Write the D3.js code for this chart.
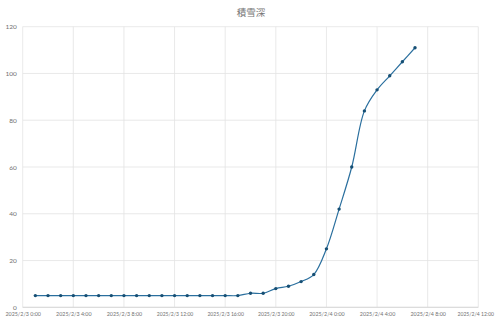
<!DOCTYPE html>
<html><head><meta charset="utf-8">
<script src="https://cdn.jsdelivr.net/npm/d3@7"></script>
<style>body{margin:0;background:#fff;}svg{display:block;}</style>
</head><body>
<svg id="c" width="500" height="319"></svg>
<script>
const title = "積雪深";
const times = [
 "2025-02-03T01:00","2025-02-03T02:00","2025-02-03T03:00","2025-02-03T04:00","2025-02-03T05:00",
 "2025-02-03T06:00","2025-02-03T07:00","2025-02-03T08:00","2025-02-03T09:00","2025-02-03T10:00",
 "2025-02-03T11:00","2025-02-03T12:00","2025-02-03T13:00","2025-02-03T14:00","2025-02-03T15:00",
 "2025-02-03T16:00","2025-02-03T17:00","2025-02-03T18:00","2025-02-03T19:00","2025-02-03T20:00",
 "2025-02-03T21:00","2025-02-03T22:00","2025-02-03T23:00","2025-02-04T00:00","2025-02-04T01:00",
 "2025-02-04T02:00","2025-02-04T03:00","2025-02-04T04:00","2025-02-04T05:00","2025-02-04T06:00",
 "2025-02-04T07:00"];
const snowDepth = [5,5,5,5,5,5,5,5,5,5,5,5,5,5,5,5,5,6,6,8,9,11,14,25,42,60,84,93,99,105,111];
const xTicks = ["2025-02-03T00:00","2025-02-03T04:00","2025-02-03T08:00","2025-02-03T12:00","2025-02-03T16:00",
 "2025-02-03T20:00","2025-02-04T00:00","2025-02-04T04:00","2025-02-04T08:00","2025-02-04T12:00"];
const yTicks = [0,20,40,60,80,100,120];

const parse = d3.timeParse("%Y-%m-%dT%H:%M");
const data = times.map((t,i)=>({t:parse(t), v:snowDepth[i]}));
const xt = xTicks.map(parse);
const fmt = d => `${d.getFullYear()}/${d.getMonth()+1}/${d.getDate()} ${d.getHours()}:${String(d.getMinutes()).padStart(2,"0")}`;

const svg = d3.select("#c");
const L=22.7, R=478.3, T=26.7, B=307.3;
const x = d3.scaleTime().domain([xt[0], xt[xt.length-1]]).range([L,R]);
const y = d3.scaleLinear().domain([0,120]).range([B,T]);

svg.append("text").attr("x",251).attr("y",16).attr("text-anchor","middle")
  .attr("font-family","'Noto Sans CJK JP'").attr("font-size",9.5).attr("fill","#767676").text(title);

// grid
const g = svg.append("g");
g.selectAll("line.h").data(yTicks).join("line")
  .attr("x1",L).attr("x2",R).attr("y1",d=>y(d)).attr("y2",d=>y(d))
  .attr("stroke","#e3e3e3").attr("stroke-width",0.8);
g.selectAll("line.v").data(xt).join("line")
  .attr("x1",d=>x(d)).attr("x2",d=>x(d)).attr("y1",T).attr("y2",B)
  .attr("stroke","#e3e3e3").attr("stroke-width",0.8);
// bottom axis line
svg.append("line").attr("x1",L).attr("x2",R).attr("y1",B).attr("y2",B)
  .attr("stroke","#d6d6d6").attr("stroke-width",0.9);

const yAxis = d3.axisLeft(y).tickValues(yTicks).tickSize(0).tickPadding(6);
const ya = svg.append("g").attr("transform",`translate(${L},0)`).call(yAxis);
ya.select(".domain").remove();
ya.selectAll("text").attr("font-family","Lato").attr("font-size",6.5).attr("fill","#707070");

const xAxis = d3.axisBottom(x).tickValues(xt).tickFormat(fmt).tickSize(0).tickPadding(5);
const xa = svg.append("g").attr("transform",`translate(0,${B})`).call(xAxis);
xa.select(".domain").remove();
xa.selectAll("text").attr("font-family","Lato").attr("font-size",5.7).attr("fill","#707070")
  .attr("dx", (d,i)=> i===xt.length-1 ? -3 : 0)
  .attr("textLength", function(){ return this.textContent.length===13 ? 35.5 : 36.5; })
  .attr("lengthAdjust","spacingAndGlyphs");

const line = d3.line().x(d=>x(d.t)).y(d=>y(d.v)).curve(d3.curveCatmullRom.alpha(0.5));
svg.append("path").datum(data).attr("d",line).attr("fill","none")
  .attr("stroke","#2a6f9e").attr("stroke-width",1.2);
svg.selectAll("circle.p").data(data).join("circle")
  .attr("cx",d=>x(d.t)).attr("cy",d=>y(d.v)).attr("r",1.7).attr("fill","#164f74");
</script>
</body></html>
